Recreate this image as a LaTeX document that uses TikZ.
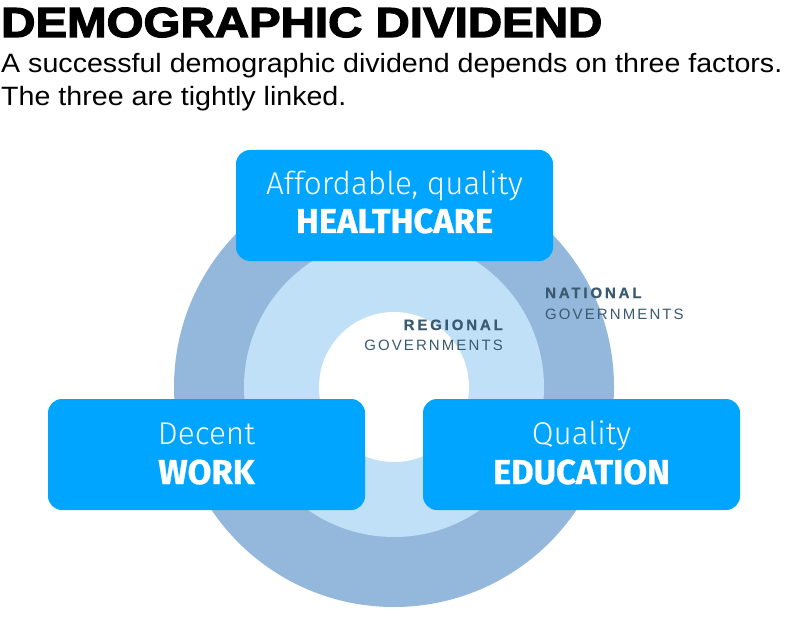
\documentclass[tikz,border=0pt]{standalone}
\usepackage{fontspec}
\setmainfont{Liberation Sans}
\newfontfamily\titlefont[FakeBold=3,FakeStretch=1.13]{Liberation Sans Bold}
\newfontfamily\subfont[FakeStretch=1.08]{Liberation Sans}
\newfontfamily\lightfont{Fira Sans Light}
\newfontfamily\heavyfont[FakeBold=0.8]{Fira Sans Bold}
\newfontfamily\labbold[LetterSpace=19,FakeBold=0.6]{Liberation Sans Bold}
\newfontfamily\labreg[LetterSpace=14]{Liberation Sans}
\definecolor{boxblue}{RGB}{0,165,255}
\definecolor{outerring}{RGB}{148,184,219}
\definecolor{midring}{RGB}{192,224,247}
\definecolor{labcol}{RGB}{58,90,112}
\tikzset{
  factorbox/.style={draw=none,fill=boxblue,rounded corners=14pt,minimum width=317pt,minimum height=111pt,inner sep=0pt},
  lightline/.style={text=white,inner sep=0pt,anchor=base,font=\lightfont\fontsize{31.5}{31.5}\selectfont},
  heavyline/.style={text=white,inner sep=0pt,anchor=base,font=\heavyfont\fontsize{34.5}{34.5}\selectfont},
  labtop/.style={text=labcol,inner sep=0pt,font=\labbold\fontsize{15}{15}\selectfont},
  labbot/.style={text=labcol,inner sep=0pt,font=\labreg\fontsize{15}{15}\selectfont},
  headtext/.style={anchor=base west,inner sep=0pt,text depth=0pt},
}
\begin{document}
\begin{tikzpicture}[x=1pt,y=-1pt]
\useasboundingbox (0,0) rectangle (802,628);
% title
\node[headtext,text height=30pt,font=\titlefont\fontsize{42}{42}\selectfont] (title) at (1,37) {DEMOGRAPHIC DIVIDEND};
\node[headtext,text height=19pt,font=\subfont\fontsize{26.5}{26.5}\selectfont] (sub1) at (1,73) {A successful demographic dividend depends on three factors.};
\node[headtext,text height=19pt,font=\subfont\fontsize{26.5}{26.5}\selectfont] (sub2) at (1,106) {The three are tightly linked.};
% rings
\fill[outerring] (394,387) circle (220);
\fill[midring] (394,387) circle (150);
\fill[white] (394,387) circle (75);
% labels
\node[labtop,anchor=base west] (nat1) at (545,298) {NATIONAL};
\node[labbot,anchor=base west] (nat2) at (545,319) {GOVERNMENTS};
\node[labtop,anchor=base east] (reg1) at (503,330) {REGIONAL};
\node[labbot,anchor=base east] (reg2) at (503,350) {GOVERNMENTS};
% boxes
\node[factorbox] (health) at (394.5,205.5) {};
\node[factorbox] (work) at (206.5,454.5) {};
\node[factorbox] (edu) at (581.5,454.5) {};
\node[lightline] (health1) at (394.5,195) {Affordable, quality};
\node[heavyline] (health2) at (394.5,233) {HEALTHCARE};
\node[lightline] (work1) at (206.5,444) {Decent};
\node[heavyline] (work2) at (206.5,484) {WORK};
\node[lightline] (edu1) at (581.5,444) {Quality};
\node[heavyline] (edu2) at (581.5,484) {EDUCATION};
\end{tikzpicture}
\end{document}
